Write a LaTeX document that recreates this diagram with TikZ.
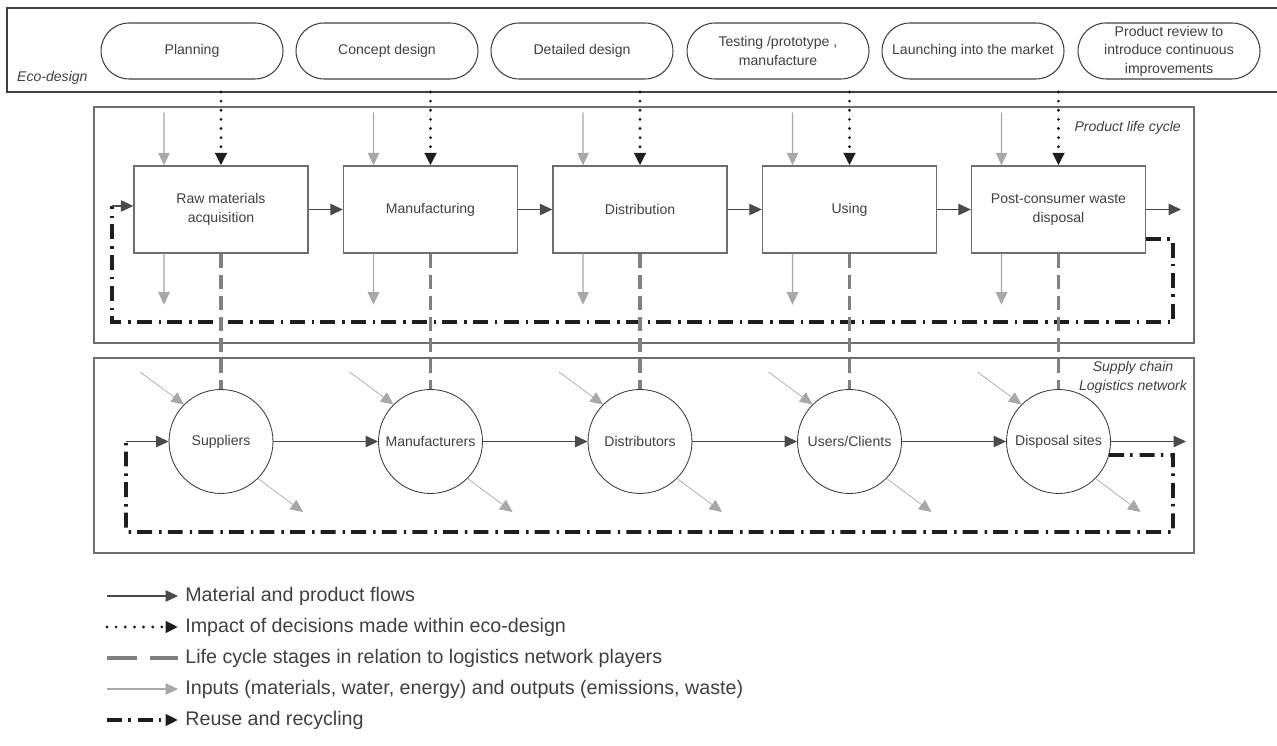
\documentclass[tikz,border=0pt]{standalone}
\usepackage{fontspec}
\setmainfont{Liberation Sans}
\usetikzlibrary{arrows.meta}

\definecolor{ink}{HTML}{404040}
\definecolor{frameline}{HTML}{6E6E6E}
\definecolor{flowline}{HTML}{4A4A4A}
\definecolor{lightline}{HTML}{A8A8A8}
\definecolor{linkline}{HTML}{808080}
\definecolor{reuseline}{HTML}{1E1E1E}

\begin{document}
\begin{tikzpicture}[
        x=0.02cm, y=0.02cm,
        font=\fontsize{8}{10.5}\selectfont, text=ink,
        >={Triangle[length=0.25cm,width=0.23cm]},
        frame/.style={draw=frameline, line width=0.8pt},
        phase/.style={draw=ink, line width=0.6pt, rounded corners=0.56cm,
            minimum width=3.64cm, minimum height=1.12cm, align=center, inner sep=1pt},
        stage/.style={draw=frameline, line width=0.8pt,
            minimum width=3.48cm, minimum height=1.74cm, align=center},
        player/.style={draw=ink, line width=0.5pt, circle, minimum size=2.08cm, inner sep=0pt},
        flow/.style={->, draw=flowline, line width=0.6pt},
        impact/.style={->, draw=reuseline, line width=1.8pt, line cap=round,
            dash pattern=on 0pt off 5.2pt},
        stagelink/.style={draw=linkline, line width=2.2pt, dash pattern=on 8pt off 4pt},
        inout/.style={->, draw=lightline, line width=0.6pt},
        diag/.style={inout, line width=0.4pt},
        recycle/.style={draw=reuseline, line width=2.2pt,
            dash pattern=on 8.5pt off 3.5pt on 1.4pt off 4pt},
        label/.style={font=\fontsize{8}{10.8}\selectfont\itshape},
        legtext/.style={anchor=west, inner sep=0pt, font=\fontsize{11.2}{13}\selectfont}
    ]
        \useasboundingbox (0,0) rectangle (1277,746);

        % eco-design band
        \draw[draw=ink, line width=0.6pt] (1277,738) -| (7,654) -- (1277,654);
        \node[label, anchor=west] (ecolabel) at (11,668) {Eco-design};
        \coordinate (ecobase) at (0,654);

        \node[phase] (plan) at (192,695) {Planning};
        \node[phase] (concept) at (387,695) {Concept design};
        \node[phase] (detail) at (582,695) {Detailed design};
        \node[phase] (test) at (778,695) {Testing /prototype ,\\manufacture};
        \node[phase] (launch) at (973,695) {Launching into the market};
        \node[phase] (review) at (1169,695) {Product review to\\introduce continuous\\improvements};

        % product life cycle
        \draw[frame] (94,639) rectangle (1194,403);
        \node[label, anchor=east] (lclabel) at (1187,618) {Product life cycle};

        \node[stage] (raw) at (221,536.5) {Raw materials\\acquisition};
        \node[stage] (manuf) at (430.5,536.5) {Manufacturing};
        \node[stage] (distr) at (640,536.5) {Distribution};
        \node[stage] (using) at (849.5,536.5) {Using};
        \node[stage] (post) at (1058.5,536.5) {Post-consumer waste\\disposal};
        \coordinate (postout) at (1181,536.5);

        \draw[flow] (raw) -- (manuf);
        \draw[flow] (manuf) -- (distr);
        \draw[flow] (distr) -- (using);
        \draw[flow] (using) -- (post);
        \draw[flow] (post) -- (postout);

        \draw[impact] (raw.north |- ecobase) -- (raw.north);
        \draw[impact] (manuf.north |- ecobase) -- (manuf.north);
        \draw[impact] (distr.north |- ecobase) -- (distr.north);
        \draw[impact] (using.north |- ecobase) -- (using.north);
        \draw[impact] (post.north |- ecobase) -- (post.north);

        \draw[inout] ([shift={(-57,53)}]raw.north) -- ([xshift=-1.14cm]raw.north);
        \draw[inout] ([shift={(-57,53)}]manuf.north) -- ([xshift=-1.14cm]manuf.north);
        \draw[inout] ([shift={(-57,53)}]distr.north) -- ([xshift=-1.14cm]distr.north);
        \draw[inout] ([shift={(-57,53)}]using.north) -- ([xshift=-1.14cm]using.north);
        \draw[inout] ([shift={(-57,53)}]post.north) -- ([xshift=-1.14cm]post.north);
        \draw[inout] ([xshift=-1.14cm]raw.south) -- ([shift={(-57,-51)}]raw.south);
        \draw[inout] ([xshift=-1.14cm]manuf.south) -- ([shift={(-57,-51)}]manuf.south);
        \draw[inout] ([xshift=-1.14cm]distr.south) -- ([shift={(-57,-51)}]distr.south);
        \draw[inout] ([xshift=-1.14cm]using.south) -- ([shift={(-57,-51)}]using.south);
        \draw[inout] ([xshift=-1.14cm]post.south) -- ([shift={(-57,-51)}]post.south);

        \coordinate (rtop) at (1173,507);
        \coordinate (rbot) at (112,424);
        \coordinate (rin) at (112,540);
        \draw[recycle] (post.east |- rtop) -- (rtop) |- (rbot) -- (rin);
        \draw[flow] (rin) -- (rin -| raw.west);

        % supply chain / logistics network
        \draw[frame] (94,388) rectangle (1194,193);
        \node[label, align=center] (sclabel) at (1133,368.5) {Supply chain\\Logistics network};

        \node[player] (sup) at (221,304.5) {Suppliers};
        \node[player] (mnf) at (430.5,304.5) {Manufacturers};
        \node[player] (dst) at (640,304.5) {Distributors};
        \node[player] (usr) at (849.5,304.5) {Users/Clients};
        \node[player] (dsp) at (1058.5,304.5) {Disposal sites};
        \coordinate (dspout) at (1186,304.5);

        \draw[flow] (sup) -- (mnf);
        \draw[flow] (mnf) -- (dst);
        \draw[flow] (dst) -- (usr);
        \draw[flow] (usr) -- (dsp);
        \draw[flow] (dsp) -- (dspout);

        \draw[stagelink] (raw) -- (sup);
        \draw[stagelink] (manuf) -- (mnf);
        \draw[stagelink] (distr) -- (dst);
        \draw[stagelink] (using) -- (usr);
        \draw[stagelink] (post) -- (dsp);

        \draw[diag] ([shift={(-81,69.5)}]sup.center) -- (sup.135);
        \draw[diag] ([shift={(-81,69.5)}]mnf.center) -- (mnf.135);
        \draw[diag] ([shift={(-81,69.5)}]dst.center) -- (dst.135);
        \draw[diag] ([shift={(-81,69.5)}]usr.center) -- (usr.135);
        \draw[diag] ([shift={(-81,69.5)}]dsp.center) -- (dsp.135);
        \draw[diag] (sup.-45) -- ([shift={(82,-70.5)}]sup.center);
        \draw[diag] (mnf.-45) -- ([shift={(82,-70.5)}]mnf.center);
        \draw[diag] (dst.-45) -- ([shift={(82,-70.5)}]dst.center);
        \draw[diag] (usr.-45) -- ([shift={(82,-70.5)}]usr.center);
        \draw[diag] (dsp.-45) -- ([shift={(82,-70.5)}]dsp.center);

        \coordinate (stop) at (1173,291);
        \coordinate (sbot) at (126,214);
        \coordinate (sin) at (126,304.5);
        \draw[recycle] (dsp.-15) -- (stop) |- (sbot) -- (sin);
        \draw[flow] (sin) -- (sup);

        % legend
        \node[legtext] (legflow) at (185,150) {Material and product flows};
        \node[legtext] (legimpact) at (185,119) {Impact of decisions made within eco-design};
        \node[legtext] (leglink) at (185,88) {Life cycle stages in relation to logistics network players};
        \node[legtext] (leginout) at (185,57) {Inputs (materials, water, energy) and outputs (emissions, waste)};
        \node[legtext] (legreuse) at (185,26) {Reuse and recycling};

        \draw[flow] ([xshift=-1.56cm]legflow.west) -- ([xshift=-0.14cm]legflow.west);
        \draw[impact] ([xshift=-1.56cm]legimpact.west) -- ([xshift=-0.14cm]legimpact.west);
        \draw[stagelink, dash pattern=on 17pt off 7.5pt] ([xshift=-1.56cm]leglink.west) -- ([xshift=-0.14cm]leglink.west);
        \draw[inout] ([xshift=-1.56cm]leginout.west) -- ([xshift=-0.14cm]leginout.west);
        \draw[recycle, ->] ([xshift=-1.56cm]legreuse.west) -- ([xshift=-0.14cm]legreuse.west);
    \end{tikzpicture}
\end{document}
